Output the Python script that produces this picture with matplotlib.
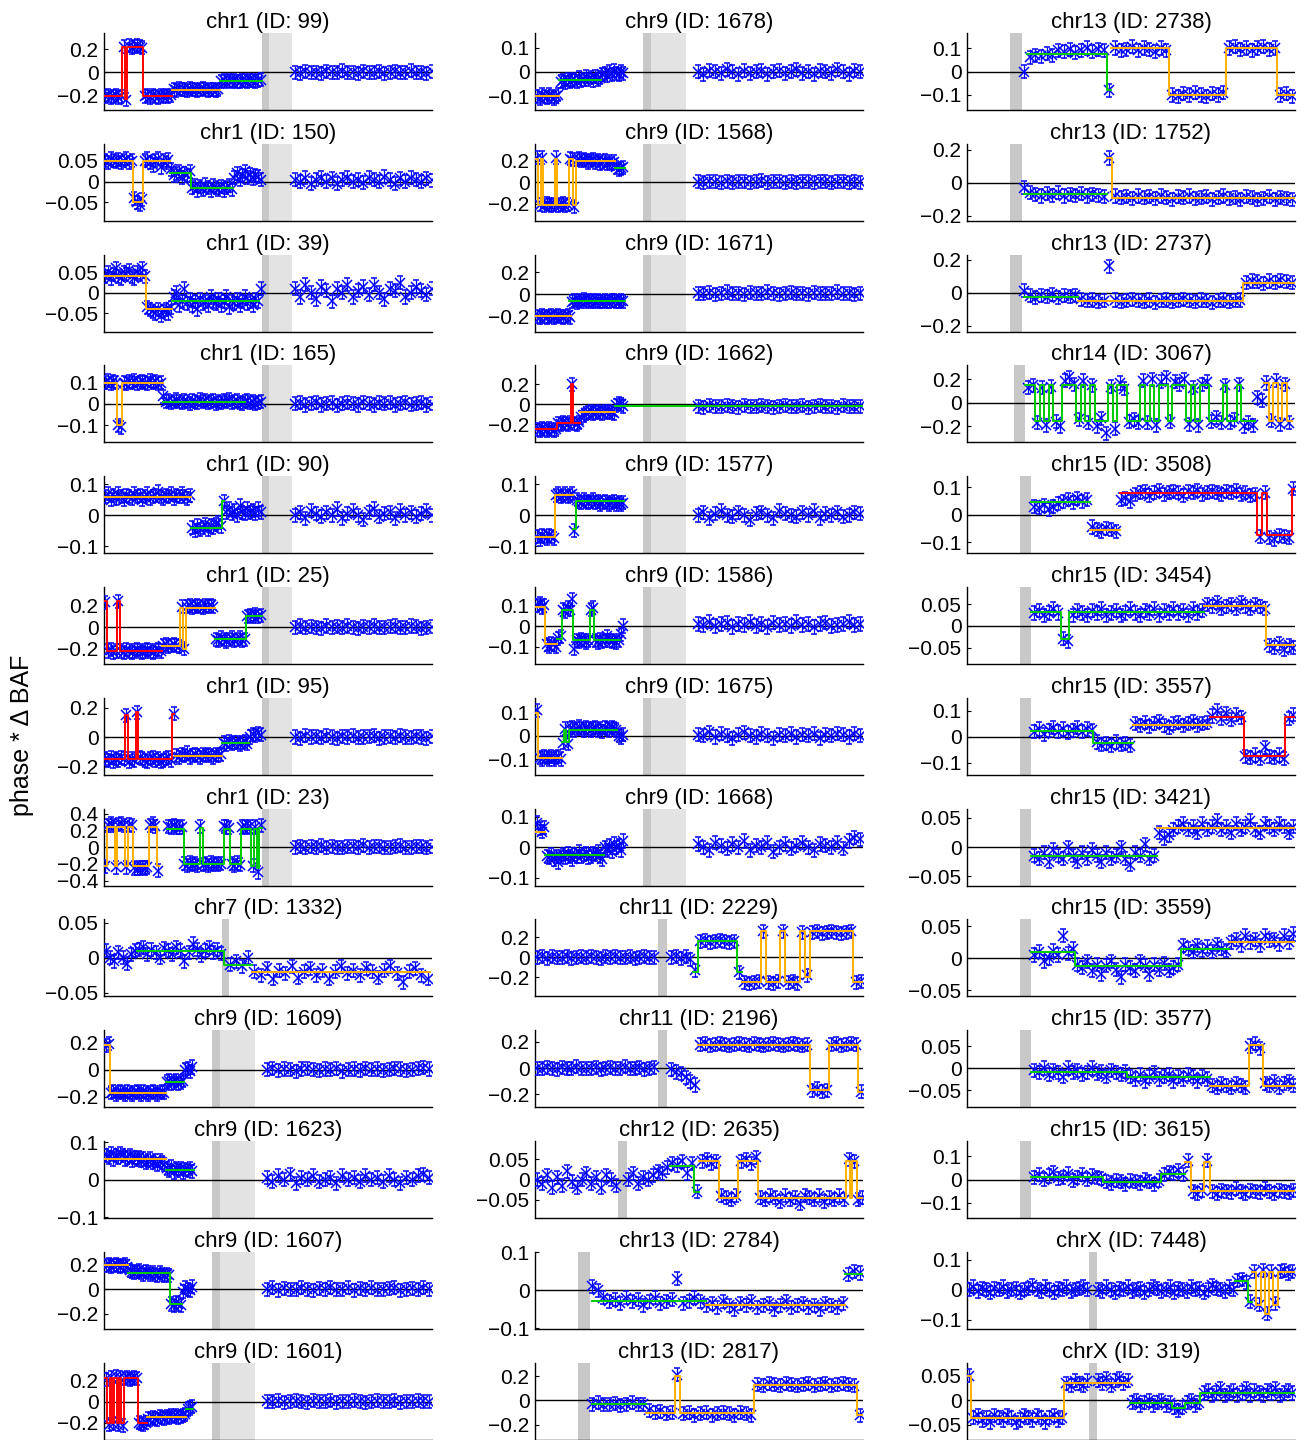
import numpy as np
import matplotlib
matplotlib.use("Agg")
import matplotlib.pyplot as plt
from matplotlib.ticker import FuncFormatter

plt.rcParams["font.family"] = ["Liberation Sans", "DejaVu Sans"]

# chromosome lengths in Mb
chrom_len = {"chr1": 249.25, "chr7": 159.14, "chr9": 141.21, "chr11": 135.01,
             "chr12": 133.85, "chr13": 115.17, "chr14": 107.35, "chr15": 102.53,
             "chrX": 155.27}

# centromere (start, end) and end of the heterochromatin block, in Mb
centro = {"chr1": (120.0, 125.5, 143.0), "chr7": (57.2, 60.6, None),
          "chr9": (46.5, 50.0, 65.0), "chr11": (50.6, 54.3, None),
          "chr12": (33.9, 37.5, None), "chr13": (15.0, 19.3, None),
          "chr14": (15.4, 19.0, None), "chr15": (16.6, 20.0, None),
          "chrX": (57.8, 61.6, None)}

# probe positions (Mb)
chr1_pos = [1, 3, 5, 7, 9, 11, 13, 15, 17, 19,
            21, 23, 25, 27, 29, 31, 33, 35, 37, 39,
            41, 43, 45, 47, 49, 51, 53, 55, 57, 59,
            61, 63, 65, 67, 69, 71, 73, 75, 77, 79,
            81, 83, 85, 87, 89, 91, 93, 95, 97, 99,
            101, 103, 105, 107, 109, 111, 113, 115, 117, 119,
            145, 149, 153, 157, 161, 165, 169, 173, 177, 181,
            185, 189, 193, 197, 201, 205, 209, 213, 217, 221,
            225, 229, 233, 237, 241, 245, 249]
chr7_pos = [1, 3, 5, 7, 9, 11, 13, 15, 17, 19,
            21, 23, 25, 27, 29, 31, 33, 35, 37, 39,
            41, 43, 45, 47, 49, 51, 53, 55, 57,
            61, 64, 67, 70, 73, 76, 79, 82, 85, 88,
            91, 94, 97, 100, 103, 106, 109, 112, 115, 118,
            121, 124, 127, 130, 133, 136, 139, 142, 145, 148,
            151, 154, 157]
chr9_pos = [1, 2, 3, 4, 5, 6, 7, 8, 9, 10,
            11, 12, 13, 14, 15, 16, 17, 18, 19, 20,
            21, 22, 23, 24, 25, 26, 27, 28, 29, 30,
            31, 32, 33, 34, 35, 36, 37, 38,
            70, 72.5, 75, 77.5, 80, 82.5, 85, 87.5, 90, 92.5,
            95, 97.5, 100, 102.5, 105, 107.5, 110, 112.5, 115, 117.5,
            120, 122.5, 125, 127.5, 130, 132.5, 135, 137.5, 140]
chr11_pos = [1, 3, 5, 7, 9, 11, 13, 15, 17, 19,
             21, 23, 25, 27, 29, 31, 33, 35, 37, 39,
             41, 43, 45, 47, 49,
             56, 58, 60, 62, 64, 66, 68, 70, 72, 74,
             76, 78, 80, 82, 84, 86, 88, 90, 92, 94,
             96, 98, 100, 102, 104, 106, 108, 110, 112, 114,
             116, 118, 120, 122, 124, 126, 128, 130, 132, 134]
chr12_pos = [1, 3, 5, 7, 9, 11, 13, 15, 17, 19,
             21, 23, 25, 27, 29, 31, 33,
             38, 40, 42, 44, 46, 48, 50, 52, 54, 56,
             58, 60, 62, 64, 66, 68, 70, 72, 74, 76,
             78, 80, 82, 84, 86, 88, 90, 92, 94, 96,
             98, 100, 102, 104, 106, 108, 110, 112, 114, 116,
             118, 120, 122, 124, 126, 128, 130, 132, 133.5]
chr13_pos = [20, 22, 24, 26, 28, 30, 32, 34, 36, 38,
             40, 42, 44, 46, 48, 50, 52, 54, 56, 58,
             60, 62, 64, 66, 68, 70, 72, 74, 76, 78,
             80, 82, 84, 86, 88, 90, 92, 94, 96, 98,
             100, 102, 104, 106, 108, 110, 112, 114]
chr14_pos = [20, 21.5, 23, 24.5, 26, 27.5, 29, 30.5, 32, 33.5,
             35, 36.5, 38, 39.5, 41, 42.5, 44, 45.5, 47, 48.5,
             50, 51.5, 53, 54.5, 56, 57.5, 59, 60.5, 62, 63.5,
             65, 66.5, 68, 69.5, 71, 72.5, 74, 75.5, 77, 78.5,
             80, 81.5, 83, 84.5, 86, 87.5, 89, 90.5, 92, 93.5,
             95, 96.5, 98, 99.5, 101, 102.5, 104, 105.5]
chr15_pos = [21, 22.5, 24, 25.5, 27, 28.5, 30, 31.5, 33, 34.5,
             36, 37.5, 39, 40.5, 42, 43.5, 45, 46.5, 48, 49.5,
             51, 52.5, 54, 55.5, 57, 58.5, 60, 61.5, 63, 64.5,
             66, 67.5, 69, 70.5, 72, 73.5, 75, 76.5, 78, 79.5,
             81, 82.5, 84, 85.5, 87, 88.5, 90, 91.5, 93, 94.5,
             96, 97.5, 99, 100.5, 102]
chrX_pos = [1, 3, 5, 7, 9, 11, 13, 15, 17, 19,
            21, 23, 25, 27, 29, 31, 33, 35, 37, 39,
            41, 43, 45, 47, 49, 51, 53, 55, 57,
            62, 64, 66, 68, 70, 72, 74, 76, 78, 80,
            82, 84, 86, 88, 90, 92, 94, 96, 98, 100,
            102, 104, 106, 108, 110, 112, 114, 116, 118, 120,
            122, 124, 126, 128, 130, 132, 134, 136, 138, 140,
            142, 144, 146, 148, 150, 152, 154]

positions = {"chr1": chr1_pos, "chr7": chr7_pos, "chr9": chr9_pos, "chr11": chr11_pos,
             "chr12": chr12_pos, "chr13": chr13_pos, "chr14": chr14_pos,
             "chr15": chr15_pos, "chrX": chrX_pos}

# phase * delta BAF per probe; segments are (start, end, level, call class)
y_chr1_99 = [-0.21, -0.2, -0.22, -0.21, -0.2, -0.22, -0.21, 0.22, -0.24, 0.23,
             0.21, 0.22, 0.23, 0.22, 0.21, -0.21, -0.2, -0.22, -0.2, -0.21,
             -0.22, -0.2, -0.21, -0.2, -0.21, -0.2, -0.15, -0.16, -0.14, -0.155,
             -0.15, -0.16, -0.145, -0.155, -0.15, -0.16, -0.15, -0.145, -0.155, -0.16,
             -0.15, -0.155, -0.16, -0.15, -0.08, -0.07, -0.085, -0.075, -0.08, -0.07,
             -0.08, -0.085, -0.07, -0.075, -0.08, -0.07, -0.075, -0.085, -0.07, -0.065,
             0.0, -0.01, 0.005, -0.005, 0.0, -0.01, 0.005, 0.0, -0.005, 0.01,
             -0.005, 0.0, -0.01, 0.005, 0.0, -0.005, 0.005, -0.01, 0.0, 0.005,
             -0.005, 0.0, 0.01, -0.005, 0.0, -0.01, 0.005]
seg_chr1_99 = [(0, 14, -0.21, 1), (14, 16.2, 0.22, 1), (16.2, 17.8, -0.23, 1), (17.8, 30, 0.22, 1),
               (30, 52, -0.21, 1), (52, 88, -0.155, 2), (88, 120, -0.08, 3)]

y_chr1_150 = [0.05, 0.045, 0.055, 0.05, 0.048, 0.053, 0.045, 0.05, 0.055, 0.047,
              0.05, -0.04, -0.05, -0.055, -0.042, 0.05, 0.055, 0.045, 0.04, 0.05,
              0.055, 0.035, 0.05, 0.045, 0.052, 0.03, 0.015, 0.02, 0.025, 0.01,
              0.02, 0.015, 0.025, -0.015, -0.01, -0.02, -0.012, -0.018, -0.008, -0.015,
              -0.02, -0.01, -0.015, -0.018, -0.012, -0.02, -0.015, -0.01, -0.018, 0.01,
              0.02, 0.005, 0.015, 0.025, 0.01, 0.018, 0.008, 0.015, 0.012, 0.005,
              0.005, 0.0, 0.01, -0.005, 0.005, 0.01, 0.0, 0.008, -0.005, 0.005,
              0.01, 0.0, 0.005, -0.003, 0.01, 0.005, 0.0, 0.012, 0.005, -0.005,
              0.008, 0.0, 0.01, 0.005, 0.0, 0.008, 0.003]
seg_chr1_150 = [(0, 22, 0.05, 2), (22, 30, -0.048, 2), (30, 50, 0.05, 2),
                (50, 66, 0.02, 3), (66, 98, -0.015, 3)]

y_chr1_39 = [0.04, 0.05, 0.035, 0.045, 0.06, 0.04, 0.035, 0.05, 0.045, 0.055,
             0.04, 0.035, 0.05, 0.045, 0.06, 0.04, -0.035, -0.04, -0.045, -0.05,
             -0.04, -0.055, -0.045, -0.04, -0.05, -0.035, -0.01, 0.0, -0.03, -0.02,
             0.01, -0.025, -0.015, -0.03, -0.02, -0.04, -0.015, -0.025, -0.02, -0.03,
             -0.01, -0.02, -0.025, -0.015, -0.03, -0.02, -0.01, -0.035, -0.02, -0.025,
             -0.015, -0.03, -0.02, -0.01, -0.025, -0.02, -0.03, -0.015, -0.02, 0.01,
             0.01, -0.01, 0.02, 0.0, -0.015, 0.015, 0.005, -0.02, 0.01, 0.0,
             0.02, -0.01, 0.005, 0.015, -0.005, 0.02, 0.0, -0.015, 0.01, 0.005,
             0.025, -0.01, 0.0, 0.015, 0.005, -0.005, 0.01]
seg_chr1_39 = [(0, 32, 0.04, 2), (32, 52, -0.04, 2), (52, 118, -0.02, 3)]

y_chr1_165 = [0.1, 0.11, 0.095, 0.105, 0.1, -0.1, -0.11, 0.1, 0.095, 0.105,
              0.1, 0.11, 0.095, 0.1, 0.105, 0.1, 0.095, 0.11, 0.1, 0.105,
              0.095, 0.1, 0.035, 0.01, 0.015, 0.005, 0.01, 0.02, 0.01, 0.005,
              0.015, 0.01, 0.0, 0.015, 0.01, 0.005, 0.02, 0.01, 0.015, 0.005,
              0.01, 0.015, 0.0, 0.01, 0.005, 0.015, 0.01, 0.02, 0.005, 0.01,
              0.015, 0.005, 0.0, 0.01, 0.015, 0.005, 0.01, 0.0, 0.005, 0.01,
              0.0, 0.005, -0.005, 0.0, 0.008, -0.005, 0.0, 0.005, -0.008, 0.0,
              0.005, 0.0, -0.005, 0.008, 0.0, -0.005, 0.005, 0.0, 0.005, -0.005,
              0.0, 0.008, -0.003, 0.0, 0.005, -0.005, 0.0]
seg_chr1_165 = [(0, 10, 0.1, 2), (10, 14, -0.1, 2), (14, 44.6, 0.1, 2), (44.6, 107, 0.01, 3)]

y_chr1_90 = [0.06, 0.07, 0.05, 0.065, 0.055, 0.07, 0.06, 0.05, 0.065, 0.06,
             0.055, 0.07, 0.06, 0.065, 0.05, 0.06, 0.07, 0.055, 0.06, 0.065,
             0.075, 0.06, 0.055, 0.065, 0.06, 0.07, 0.055, 0.065, 0.06, 0.07,
             0.06, 0.055, 0.065, -0.04, -0.05, -0.035, -0.045, -0.04, -0.03, -0.045,
             -0.035, -0.04, -0.03, -0.025, -0.035, 0.045, 0.01, 0.02, 0.005, 0.015,
             0.0, 0.03, 0.01, 0.005, 0.02, 0.01, 0.015, 0.005, 0.02, 0.01,
             0.0, 0.01, -0.01, 0.015, 0.005, -0.005, 0.01, 0.0, 0.02, -0.01,
             0.005, 0.015, 0.0, -0.015, 0.01, 0.02, -0.005, 0.005, 0.01, -0.01,
             0.015, 0.0, 0.01, -0.005, 0.005, 0.015, 0.0]
seg_chr1_90 = [(0, 66, 0.06, 2), (66, 90, -0.04, 3), (90, 91.5, 0.045, 3)]

y_chr1_25 = [0.23, -0.22, -0.21, -0.23, -0.22, 0.24, -0.22, -0.23, -0.21, -0.22,
             -0.23, -0.22, -0.21, -0.22, -0.23, -0.22, -0.21, -0.22, -0.23, -0.22,
             -0.21, -0.22, -0.17, -0.16, -0.18, -0.17, -0.16, -0.17, -0.18, 0.19,
             -0.2, 0.19, 0.2, 0.18, 0.19, 0.2, 0.19, 0.18, 0.2, 0.19,
             0.2, 0.19, -0.11, -0.12, -0.1, -0.11, -0.13, -0.11, -0.1, -0.12,
             -0.11, -0.1, -0.12, -0.11, 0.1, 0.11, 0.1, 0.12, 0.1, 0.11,
             0.0, 0.01, -0.005, 0.005, 0.0, -0.01, 0.01, 0.0, 0.005, -0.005,
             0.01, 0.0, -0.01, 0.005, 0.0, 0.01, -0.005, 0.0, 0.005, 0.01,
             -0.005, 0.0, 0.01, 0.005, -0.01, 0.0, 0.005]
seg_chr1_25 = [(0, 2, 0.24, 1), (2, 10, -0.22, 1), (10, 12, 0.24, 1), (12, 44, -0.22, 1),
               (44, 58, -0.17, 2), (58, 60, 0.18, 2), (60, 62, -0.2, 2), (62, 84, 0.18, 2),
               (84, 108, -0.11, 3), (108, 120, 0.1, 3)]

y_chr1_95 = [-0.15, -0.16, -0.14, -0.17, -0.15, -0.16, -0.14, -0.15, 0.15, -0.17,
             -0.15, -0.16, 0.17, -0.14, -0.15, -0.16, -0.17, -0.15, -0.14, -0.16,
             -0.15, -0.17, -0.16, -0.15, -0.14, -0.16, 0.16, -0.13, -0.14, -0.12,
             -0.13, -0.11, -0.14, -0.13, -0.12, -0.13, -0.14, -0.12, -0.13, -0.12,
             -0.13, -0.14, -0.12, -0.13, -0.12, -0.04, -0.05, -0.03, -0.045, -0.04,
             -0.035, -0.05, -0.04, -0.03, -0.045, 0.0, 0.02, 0.01, 0.025, 0.015,
             0.0, -0.01, 0.01, 0.0, 0.005, -0.005, 0.01, 0.0, -0.01, 0.005,
             0.0, 0.01, -0.005, 0.0, 0.005, 0.01, -0.01, 0.0, 0.005, -0.005,
             0.01, 0.0, -0.005, 0.005, 0.0, -0.01, 0.005]
seg_chr1_95 = [(0, 16, -0.15, 1), (16, 18, 0.15, 1), (18, 24, -0.15, 1), (24, 26, 0.17, 1),
               (26, 52, -0.15, 1), (52, 53, 0.16, 1), (54, 90, -0.13, 2), (90, 110, -0.04, 3)]

y_chr1_23 = [-0.23, 0.26, 0.28, 0.26, -0.24, 0.27, 0.28, 0.26, -0.24, 0.27,
             0.26, -0.25, -0.26, -0.25, -0.24, -0.25, -0.24, 0.26, 0.28, 0.25,
             -0.28, None, None, None, 0.25, 0.24, 0.26, 0.24, 0.23, 0.24,
             -0.2, -0.22, -0.19, -0.21, -0.2, -0.22, 0.25, -0.21, -0.2, -0.22,
             -0.19, -0.21, -0.2, -0.21, -0.2, 0.25, 0.24, 0.23, -0.2, -0.22,
             -0.19, -0.21, 0.24, 0.25, 0.23, 0.25, -0.22, 0.24, -0.3, 0.26,
             0.0, 0.01, -0.01, 0.005, 0.0, 0.015, -0.005, 0.01, 0.0, -0.01,
             0.005, 0.01, 0.0, 0.02, -0.005, 0.005, 0.01, -0.01, 0.0, 0.005,
             0.015, -0.005, 0.0, 0.01, 0.005, -0.01, 0.005]
seg_chr1_23 = [(0, 2, -0.23, 2), (2, 8, 0.24, 2), (8, 10, -0.23, 2), (10, 16, 0.24, 2),
               (16, 18, -0.23, 2), (18, 22, 0.24, 2), (22, 34, -0.23, 2), (34, 40, 0.24, 2),
               (40, 42, -0.23, 2),
               (48, 61, 0.22, 3), (61, 73, -0.2, 3), (73, 75, 0.23, 3), (75, 91, -0.2, 3),
               (91, 96, 0.22, 3), (96, 104, -0.2, 3), (104, 112, 0.22, 3), (112, 114, -0.22, 3),
               (114, 116, 0.22, 3), (116, 118, -0.25, 3), (118, 120, 0.23, 3)]

y_chr7_1332 = [0.01, 0.0, -0.005, 0.008, 0.0, -0.008, 0.005, 0.01, 0.012, 0.015,
               0.005, 0.012, 0.008, 0.0, 0.014, 0.01, 0.005, 0.015, 0.01, -0.005,
               0.008, 0.02, 0.012, 0.004, 0.01, 0.015, 0.008, 0.012, 0.006,
               -0.01, -0.005, -0.012, 0.0,
               -0.02, -0.025, -0.015, -0.03, -0.018, -0.022, -0.012, -0.028, -0.02, -0.015,
               -0.025, -0.018, -0.03, -0.02, -0.012, -0.022, -0.018, -0.025, -0.015, -0.02,
               -0.028, -0.018, -0.012, -0.022, -0.035, -0.02, -0.015, -0.025, -0.03]
seg_chr7_1332 = [(16, 58, 0.01, 3), (58, 72, -0.01, 3), (72, 158, -0.02, 2)]

y_chr9_1609 = [0.18, 0.19, -0.17, -0.16, -0.18, -0.17, -0.16, -0.17, -0.18, -0.16,
               -0.17, -0.18, -0.17, -0.16, -0.17, -0.18, -0.16, -0.17, -0.18, -0.17,
               -0.16, -0.17, -0.18, -0.17, -0.16, -0.17, -0.09, -0.08, -0.1, -0.09,
               -0.08, -0.1, -0.09, -0.08, 0.0, 0.01, -0.01, 0.02,
               0.0, 0.01, -0.005, 0.005, 0.0, -0.01, 0.005, 0.01, 0.0, -0.005,
               0.005, 0.0, 0.01, -0.01, 0.0, 0.005, -0.005, 0.01, 0.0, 0.005,
               -0.005, 0.0, 0.01, 0.005, -0.005, 0.0, 0.01, 0.015, 0.005]
seg_chr9_1609 = [(0, 2.5, 0.18, 2), (2.5, 26.5, -0.17, 2), (26.5, 34.5, -0.09, 3)]

y_chr9_1623 = [0.065, 0.06, 0.07, 0.055, 0.065, 0.06, 0.07, 0.065, 0.055, 0.06,
               0.065, 0.05, 0.06, 0.055, 0.06, 0.05, 0.055, 0.045, 0.05, 0.055,
               0.045, 0.05, 0.04, 0.05, 0.045, 0.04, 0.03, 0.025, 0.035, 0.02,
               0.03, 0.025, 0.03, 0.02, 0.028, 0.025, 0.03, 0.022,
               0.005, -0.005, 0.01, 0.0, 0.015, -0.01, 0.005, 0.0, 0.01, -0.005,
               0.0, 0.005, -0.01, 0.01, 0.0, 0.005, -0.005, 0.01, 0.0, 0.005,
               -0.005, 0.01, 0.0, -0.01, 0.005, 0.0, 0.01, 0.015, 0.005]
seg_chr9_1623 = [(0, 26.5, 0.055, 2), (26.5, 38.7, 0.025, 3)]

y_chr9_1607 = [0.19, 0.2, 0.18, 0.19, 0.2, 0.19, 0.18, 0.19, 0.2, 0.18,
               0.15, 0.14, 0.13, 0.14, 0.15, 0.13, 0.12, 0.14, 0.13, 0.12,
               0.13, 0.12, 0.11, 0.13, 0.12, 0.11, 0.12, 0.11, -0.12, -0.13,
               -0.11, -0.12, -0.13, -0.02, 0.01, 0.0, -0.01, 0.02,
               0.0, 0.01, -0.01, 0.005, 0.0, -0.005, 0.01, 0.0, -0.01, 0.005,
               0.0, 0.015, -0.005, 0.0, 0.01, -0.01, 0.005, 0.0, 0.01, -0.005,
               0.0, 0.005, 0.01, -0.01, 0.0, 0.005, -0.005, 0.01, 0.0]
seg_chr9_1607 = [(0, 10.5, 0.19, 2), (10.5, 28.5, 0.13, 3), (28.5, 33.5, -0.12, 3)]

y_chr9_1601 = [0.21, -0.22, 0.23, -0.21, 0.24, -0.22, 0.23, -0.23, 0.22, 0.23,
               0.21, 0.22, 0.23, 0.22, -0.2, -0.21, -0.22, -0.2, -0.16, -0.17,
               -0.15, -0.16, -0.17, -0.14, -0.15, -0.16, -0.14, -0.15, -0.13, -0.14,
               -0.13, -0.15, -0.14, -0.13, -0.12, -0.07, -0.06, -0.05,
               0.005, 0.0, 0.01, -0.005, 0.005, 0.01, 0.0, -0.005, 0.01, 0.005,
               0.0, 0.01, -0.005, 0.005, 0.0, 0.01, 0.005, -0.005, 0.0, 0.01,
               0.005, 0.0, 0.01, -0.005, 0.005, 0.0, 0.01, 0.005, 0.0]
seg_chr9_1601 = [(0, 1.5, 0.22, 1), (1.5, 2.5, -0.2, 1), (2.5, 3.5, 0.22, 1), (3.5, 4.5, -0.2, 1),
                 (4.5, 5.5, 0.22, 1), (5.5, 6.5, -0.2, 1), (6.5, 7.5, 0.22, 1), (7.5, 8.5, -0.2, 1),
                 (8.5, 14.5, 0.22, 1), (14.5, 18.5, -0.2, 1), (18.5, 35.5, -0.15, 2),
                 (35.5, 38.5, -0.07, 3)]

y_chr9_1678 = [-0.1, -0.11, -0.095, -0.1, -0.105, -0.095, -0.1, -0.11, -0.1, -0.095,
               -0.04, -0.035, -0.045, -0.03, -0.04, -0.035, -0.03, -0.04, -0.025, -0.035,
               -0.03, -0.02, -0.03, -0.025, -0.035, -0.02, -0.03, -0.025, -0.01, -0.005,
               -0.015, 0.0, -0.01, 0.005, -0.005, -0.01, 0.0, -0.005,
               0.0, -0.01, 0.005, 0.0, -0.005, 0.01, 0.0, -0.01, 0.005, -0.005,
               0.0, 0.005, -0.01, 0.0, 0.005, -0.005, 0.0, 0.01, -0.005, 0.0,
               -0.01, 0.005, 0.0, -0.005, 0.01, 0.0, -0.01, 0.005, 0.0]
seg_chr9_1678 = [(0, 10.5, -0.1, 2), (10.5, 28.5, -0.035, 3)]

y_chr9_1568 = [0.23, -0.21, 0.23, -0.22, -0.2, -0.21, -0.22, -0.21, 0.23, -0.22,
               -0.21, -0.2, -0.22, -0.21, 0.22, 0.21, -0.23, 0.21, 0.22, 0.2,
               0.21, 0.2, 0.19, 0.2, 0.21, 0.19, 0.2, 0.18, 0.19, 0.2,
               0.18, 0.19, 0.18, 0.19, 0.14, 0.12, 0.13, 0.14,
               0.005, 0.0, 0.01, 0.005, -0.005, 0.01, 0.0, 0.005, 0.01, 0.0,
               0.005, 0.015, 0.0, 0.005, 0.01, -0.005, 0.005, 0.0, 0.01, 0.005,
               0.0, 0.01, 0.005, -0.005, 0.005, 0.01, 0.0, 0.005, 0.0]
seg_chr9_1568 = [(0, 1.5, 0.22, 2), (1.5, 2.5, -0.21, 2), (2.5, 3.5, 0.22, 2), (3.5, 8.5, -0.21, 2),
                 (8.5, 9.5, 0.22, 2), (9.5, 14.5, -0.21, 2), (14.5, 16.5, 0.22, 2),
                 (16.5, 17.5, -0.21, 2), (17.5, 34.5, 0.2, 2), (34.5, 38.7, 0.13, 3)]

y_chr9_1671 = [-0.2, -0.21, -0.19, -0.2, -0.21, -0.2, -0.19, -0.21, -0.2, -0.19,
               -0.2, -0.21, -0.2, -0.19, -0.21, -0.07, -0.06, -0.075, -0.06, -0.065,
               -0.05, -0.07, -0.06, -0.065, -0.055, -0.07, -0.06, -0.065, -0.07, -0.06,
               -0.065, -0.07, -0.06, -0.055, -0.065, -0.07, -0.06, -0.065,
               0.01, 0.005, 0.015, 0.0, 0.01, 0.02, 0.005, 0.01, 0.0, 0.015,
               0.01, 0.005, 0.02, 0.01, 0.0, 0.01, 0.015, 0.005, 0.01, 0.0,
               0.015, 0.01, 0.005, 0.01, 0.02, 0.005, 0.01, 0.0, 0.01]
seg_chr9_1671 = [(0, 15.5, -0.2, 2), (14.5, 38.7, -0.065, 3)]

y_chr9_1662 = [-0.25, -0.26, -0.24, -0.25, -0.26, -0.24, -0.25, -0.26, -0.25, -0.19,
               -0.2, -0.18, -0.19, -0.2, -0.18, 0.2, -0.19, -0.2, -0.18, -0.13,
               -0.11, -0.09, -0.08, -0.07, -0.09, -0.08, -0.07, -0.08, -0.09, -0.07,
               -0.08, -0.07, -0.08, -0.09, -0.01, 0.01, 0.0, -0.02,
               -0.02, -0.03, -0.01, -0.02, -0.025, -0.015, -0.02, -0.03, -0.01, -0.02,
               -0.025, -0.015, -0.02, -0.03, -0.02, -0.01, -0.025, -0.02, -0.015, -0.03,
               -0.02, -0.01, -0.025, -0.02, -0.03, -0.015, -0.02, -0.025, -0.02]
seg_chr9_1662 = [(0, 9.5, -0.25, 1), (9.5, 15.5, -0.19, 1), (15.5, 16.5, 0.2, 1), (16.5, 19.5, -0.19, 1),
                 (19.5, 34.5, -0.08, 2), (34.5, 141, -0.02, 3)]

y_chr9_1577 = [-0.07, -0.08, -0.065, -0.07, -0.075, -0.065, -0.07, -0.075, 0.065, 0.07,
               0.06, 0.065, 0.07, 0.06, 0.065, 0.07, -0.05, 0.05, 0.045, 0.04,
               0.05, 0.045, 0.04, 0.045, 0.05, 0.04, 0.045, 0.035, 0.04, 0.045,
               0.04, 0.035, 0.04, 0.045, 0.035, 0.04, 0.035, 0.04,
               0.0, 0.01, -0.01, 0.005, 0.015, 0.0, -0.005, 0.01, 0.0, -0.015,
               0.005, 0.01, 0.0, -0.01, 0.015, 0.005, 0.0, -0.005, 0.01, 0.0,
               0.015, -0.01, 0.005, 0.0, 0.01, -0.005, 0.0, 0.01, 0.005]
seg_chr9_1577 = [(0, 8.5, -0.07, 2), (8.5, 16.5, 0.065, 2), (16.5, 17.5, -0.045, 3),
                 (17.5, 38.3, 0.045, 3)]

y_chr9_1586 = [0.1, 0.11, 0.09, 0.1, -0.09, -0.1, -0.085, -0.09, -0.1, -0.06,
               -0.05, 0.08, 0.07, 0.09, 0.08, 0.13, -0.11, -0.07, -0.075, -0.065,
               -0.07, -0.08, -0.07, 0.08, 0.09, -0.07, -0.08, -0.065, -0.075, -0.07,
               -0.05, -0.07, -0.075, -0.07, -0.08, -0.07, -0.04, 0.0,
               0.01, 0.005, 0.02, 0.0, 0.01, 0.015, -0.005, 0.01, 0.005, 0.02,
               0.0, 0.01, -0.005, 0.015, 0.005, 0.01, 0.0, 0.02, 0.005, 0.01,
               -0.005, 0.01, 0.015, 0.0, 0.005, 0.01, 0.02, 0.005, 0.01]
seg_chr9_1586 = [(0, 4.5, 0.095, 2), (4.5, 9.5, -0.09, 2), (9.5, 11.5, -0.065, 3),
                 (11.5, 16.5, 0.08, 3), (16.5, 23.5, -0.07, 3), (23.5, 25.5, 0.08, 3),
                 (25.5, 36.5, -0.07, 3)]

y_chr9_1675 = [0.11, -0.095, -0.1, -0.09, -0.095, -0.1, -0.09, -0.1, -0.095, -0.09,
               -0.1, -0.03, 0.03, -0.035, 0.03, 0.035, 0.025, 0.03, 0.04, 0.03,
               0.025, 0.035, 0.03, 0.025, 0.03, 0.035, 0.025, 0.03, 0.02, 0.035,
               0.03, 0.025, 0.035, 0.03, 0.025, 0.0, -0.005, 0.005,
               0.005, 0.0, 0.015, -0.005, 0.01, 0.0, -0.01, 0.005, 0.015, 0.0,
               -0.005, 0.01, 0.0, -0.01, 0.005, 0.0, 0.01, -0.005, 0.005, 0.0,
               0.01, -0.01, 0.005, 0.0, 0.01, 0.005, -0.005, 0.01, 0.0]
seg_chr9_1675 = [(0, 1.5, 0.1, 2), (1.5, 11.5, -0.095, 2), (11.5, 12.5, -0.025, 3),
                 (12.5, 13.5, 0.025, 3), (13.5, 14.5, -0.025, 3), (14.5, 35.5, 0.025, 3)]

y_chr9_1668 = [0.08, 0.06, 0.05, 0.065, -0.03, -0.035, -0.025, -0.04, -0.03, -0.05,
               -0.03, -0.025, -0.035, -0.02, -0.03, -0.04, -0.025, -0.03, -0.015, -0.03,
               -0.025, -0.02, -0.035, -0.03, -0.02, -0.025, -0.015, -0.03, -0.04, 0.0,
               -0.01, 0.005, -0.015, 0.01, 0.0, 0.005, -0.01, 0.02,
               0.01, 0.0, -0.01, 0.015, 0.005, -0.005, 0.01, 0.0, 0.02, -0.01,
               0.005, 0.0, 0.015, -0.015, 0.0, 0.01, -0.005, 0.005, 0.015, 0.0,
               -0.01, 0.01, 0.005, 0.0, 0.015, -0.005, 0.02, 0.03, 0.025]
seg_chr9_1668 = [(0, 4.5, 0.05, 2), (4.5, 29.5, -0.025, 3)]

y_chr11_2229 = [0.0, 0.01, -0.01, 0.005, 0.0, -0.005, 0.01, -0.01, 0.0, 0.005,
                -0.005, 0.01, 0.0, -0.01, 0.005, 0.0, 0.01, -0.005, 0.0, 0.005,
                -0.01, 0.0, 0.01, -0.005, 0.0,
                0.0, 0.01, -0.01, 0.005, -0.02, -0.13, 0.16, 0.17, 0.15, 0.16,
                0.17, 0.16, 0.15, 0.16, -0.15, -0.25, -0.26, -0.25, -0.24, 0.26,
                -0.25, -0.26, -0.24, 0.26, -0.25, -0.24, -0.26, 0.25, -0.18, 0.25,
                0.26, 0.24, 0.25, 0.26, 0.25, 0.24, 0.25, 0.26, -0.25, -0.24]
seg_chr11_2229 = [(65, 67, -0.15, 3), (67, 83, 0.16, 3), (83, 85, -0.15, 3),
                  (85, 93, -0.25, 2), (93, 95, 0.26, 2), (95, 101, -0.25, 2), (101, 103, 0.26, 2),
                  (103, 109, -0.25, 2), (109, 111, 0.26, 2), (111, 113, -0.2, 2),
                  (113, 131, 0.26, 2), (131, 135, -0.25, 2)]

y_chr11_2196 = [0.0, -0.005, 0.005, 0.0, -0.01, 0.005, 0.0, -0.005, 0.01, 0.0,
                -0.005, 0.0, 0.005, -0.01, 0.0, 0.005, -0.005, 0.0, 0.01, -0.005,
                0.0, 0.005, -0.01, 0.0, 0.005,
                -0.01, -0.03, -0.04, -0.07, -0.1, -0.13, 0.18, 0.19, 0.17, 0.18,
                0.19, 0.18, 0.17, 0.18, 0.19, 0.18, 0.17, 0.19, 0.18, 0.17,
                0.18, 0.19, 0.18, 0.17, 0.18, 0.19, 0.18, 0.17, 0.18, -0.17,
                -0.16, -0.18, -0.17, 0.18, 0.19, 0.17, 0.18, 0.19, 0.18, -0.18]
seg_chr11_2196 = [(67, 113, 0.18, 2), (113, 121, -0.17, 2), (121, 133, 0.18, 2), (133, 135, -0.18, 2)]

y_chr12_2635 = [0.0, -0.01, 0.01, -0.02, 0.005, -0.015, 0.02, -0.005, -0.02, 0.0,
                0.015, -0.01, 0.005, -0.02, 0.01, 0.0, -0.015,
                0.0, 0.015, -0.01, 0.005, 0.0, 0.01, 0.02, 0.015, 0.03, 0.04,
                0.035, 0.045, 0.015, 0.04, -0.03, 0.045, 0.05, 0.04, 0.045, -0.04,
                -0.045, -0.05, -0.04, 0.045, 0.05, 0.04, 0.055, -0.045, -0.05, -0.04,
                -0.045, -0.055, -0.04, -0.05, -0.045, -0.06, -0.04, -0.045, -0.05, -0.04,
                -0.055, -0.045, -0.05, -0.04, -0.05, 0.05, 0.045, -0.05, -0.045]
seg_chr12_2635 = [(55, 65, 0.033, 3), (65, 67, -0.03, 3), (67, 75, 0.045, 2), (75, 83, -0.045, 2),
                  (83, 91, 0.045, 2), (91, 127, -0.045, 2), (127, 128.5, 0.045, 2),
                  (128.5, 129.5, -0.045, 2), (129.5, 131.5, 0.045, 2), (131.5, 133.85, -0.045, 2)]

y_chr13_2784 = [0.01, 0.0, -0.02, -0.03, -0.025, -0.035, -0.02, -0.03, -0.025, -0.04,
                -0.03, -0.02, -0.035, -0.03, -0.025, 0.03, -0.035, -0.03, -0.02, -0.03,
                -0.04, -0.035, -0.045, -0.03, -0.04, -0.05, -0.035, -0.04, -0.03, -0.045,
                -0.04, -0.035, -0.05, -0.04, -0.03, -0.045, -0.04, -0.035, -0.045, -0.04,
                -0.05, -0.035, -0.04, -0.045, -0.035, 0.04, 0.05, 0.045]
seg_chr13_2784 = [(20, 60, -0.028, 3), (60, 109, -0.038, 2), (109, 115, 0.042, 3)]

y_chr13_2817 = [-0.03, -0.02, -0.035, -0.03, -0.025, -0.04, -0.03, -0.02, -0.035, -0.03,
                -0.08, -0.1, -0.09, -0.11, -0.1, 0.21, -0.11, -0.1, -0.12, -0.11,
                -0.1, -0.12, -0.11, -0.1, -0.11, -0.12, -0.1, -0.11, -0.12, 0.13,
                0.12, 0.14, 0.13, 0.12, 0.14, 0.13, 0.12, 0.13, 0.14, 0.12,
                0.13, 0.14, 0.12, 0.13, 0.14, 0.13, 0.12, -0.12]
seg_chr13_2817 = [(20, 39, -0.03, 3), (39, 49, -0.1, 2), (49, 51, 0.2, 2), (51, 77, -0.1, 2),
                  (77, 113, 0.13, 2), (113, 115, -0.12, 2)]

y_chr13_2738 = [0.0, 0.06, 0.07, 0.065, 0.075, 0.07, 0.09, 0.085, 0.095, 0.08,
                0.09, 0.1, 0.085, 0.095, 0.09, -0.08, 0.1, 0.09, 0.095, 0.105,
                0.09, 0.1, 0.095, 0.085, 0.1, 0.09, -0.1, -0.105, -0.095, -0.1,
                -0.09, -0.1, -0.105, -0.095, -0.1, -0.09, 0.1, 0.105, 0.095, 0.1,
                0.09, 0.1, 0.105, 0.095, 0.1, -0.1, -0.095, -0.105]
seg_chr13_2738 = [(21, 49, 0.075, 3), (49, 50.5, -0.08, 3), (50.5, 71, 0.1, 2), (71, 91, -0.1, 2),
                  (91, 109, 0.1, 2), (109, 115, -0.1, 2)]

y_chr13_1752 = [-0.03, -0.06, -0.07, -0.08, -0.065, -0.075, -0.06, -0.08, -0.07, -0.075,
                -0.065, -0.08, -0.07, -0.075, -0.085, 0.15, -0.08, -0.09, -0.085, -0.095,
                -0.08, -0.09, -0.085, -0.095, -0.08, -0.09, -0.1, -0.085, -0.09, -0.08,
                -0.095, -0.09, -0.085, -0.1, -0.09, -0.08, -0.095, -0.09, -0.1, -0.085,
                -0.09, -0.1, -0.095, -0.085, -0.1, -0.09, -0.095, -0.1]
seg_chr13_1752 = [(20, 49, -0.07, 3), (49, 51, 0.15, 2), (51, 115, -0.09, 2)]

y_chr13_2737 = [0.01, -0.02, -0.03, -0.015, -0.025, -0.01, -0.03, -0.02, -0.025, -0.015,
                -0.04, -0.05, -0.045, -0.055, -0.05, 0.16, -0.045, -0.055, -0.05, -0.04,
                -0.05, -0.055, -0.045, -0.06, -0.05, -0.045, -0.055, -0.05, -0.04, -0.05,
                -0.055, -0.045, -0.05, -0.06, -0.05, -0.045, -0.055, -0.05, -0.045, 0.06,
                0.07, 0.065, 0.055, 0.07, 0.06, 0.075, 0.065, 0.06]
seg_chr13_2737 = [(20, 39, -0.025, 3), (39, 97, -0.05, 2), (97, 115, 0.06, 2)]

y_chr14_3067 = [0.13, 0.15, -0.17, 0.13, -0.19, 0.14, -0.16, -0.2, 0.19, 0.22,
                0.16, -0.14, 0.19, -0.17, 0.15, -0.2, -0.13, -0.26, 0.14, -0.22,
                0.17, 0.12, -0.16, -0.14, -0.17, 0.19, -0.17, 0.2, -0.19, 0.18,
                0.22, -0.16, 0.18, 0.16, 0.2, -0.18, 0.13, -0.19, 0.16, 0.18,
                -0.16, -0.12, -0.17, 0.15, -0.17, -0.14, 0.16, -0.2, -0.17, -0.19,
                0.05, 0.02, 0.17, -0.15, 0.19, -0.18, 0.16, -0.17]
seg_chr14_3067 = [(19.0, 22.25, 0.15, 3), (22.25, 23.75, -0.15, 3), (23.75, 25.25, 0.15, 3),
                  (25.25, 26.75, -0.15, 3), (26.75, 28.25, 0.15, 3), (28.25, 31.25, -0.15, 3),
                  (31.25, 35.75, 0.15, 3), (35.75, 37.25, -0.15, 3), (37.25, 38.75, 0.15, 3),
                  (38.75, 40.25, -0.15, 3), (40.25, 41.75, 0.15, 3), (41.75, 46.25, -0.15, 3),
                  (46.25, 47.75, 0.15, 3), (47.75, 49.25, -0.15, 3), (49.25, 52.25, 0.15, 3),
                  (52.25, 56.75, -0.15, 3), (56.75, 58.25, 0.15, 3), (58.25, 59.75, -0.15, 3),
                  (59.75, 61.25, 0.15, 3), (61.25, 62.75, -0.15, 3), (62.75, 65.75, 0.15, 3),
                  (65.75, 67.25, -0.15, 3), (67.25, 71.75, 0.15, 3), (71.75, 73.25, -0.15, 3),
                  (73.25, 74.75, 0.15, 3), (74.75, 76.25, -0.15, 3), (76.25, 79.25, 0.15, 3),
                  (79.25, 83.75, -0.15, 3), (83.75, 85.25, 0.15, 3), (85.25, 88.25, -0.15, 3),
                  (88.25, 89.75, 0.15, 3), (89.75, 94.25, -0.15, 3),
                  (97.25, 98.75, 0.17, 2), (98.75, 100.25, -0.15, 2), (100.25, 101.75, 0.17, 2),
                  (101.75, 103.25, -0.15, 2), (103.25, 104.75, 0.17, 2), (104.75, 106.5, -0.15, 2)]

y_chr15_3508 = [0.03, 0.025, 0.035, 0.02, 0.03, 0.04, 0.05, 0.055, 0.045, 0.06,
                0.05, 0.055, -0.045, -0.055, -0.06, -0.05, -0.055, -0.06, 0.055, 0.06,
                0.05, 0.075, 0.08, 0.085, 0.07, 0.08, 0.09, 0.075, 0.08, 0.085,
                0.08, 0.07, 0.085, 0.08, 0.09, 0.075, 0.08, 0.085, 0.08, 0.075,
                0.085, 0.08, 0.09, 0.075, 0.08, 0.07, 0.075, -0.08, 0.08, -0.085,
                -0.09, -0.075, -0.08, -0.085, 0.095]
seg_chr15_3508 = [(20, 38.5, 0.045, 3), (38.5, 47.8, -0.055, 2), (47.8, 90.5, 0.08, 1),
                  (90.5, 92.2, -0.075, 1), (92.2, 93.8, 0.08, 1), (93.8, 101.5, -0.075, 1),
                  (101.5, 102.5, 0.095, 1)]

y_chr15_3454 = [0.03, 0.035, 0.025, 0.03, 0.04, 0.03, -0.03, -0.035, 0.025, 0.035,
                0.03, 0.025, 0.035, 0.03, 0.04, 0.025, 0.03, 0.035, 0.025, 0.03,
                0.04, 0.03, 0.025, 0.035, 0.03, 0.04, 0.025, 0.035, 0.03, 0.04,
                0.03, 0.035, 0.025, 0.04, 0.03, 0.035, 0.05, 0.045, 0.055, 0.04,
                0.045, 0.05, 0.04, 0.055, 0.045, 0.04, 0.05, 0.045, 0.04, -0.045,
                -0.05, -0.04, -0.055, -0.045, -0.05]
seg_chr15_3454 = [(20, 29.5, 0.032, 3), (29.5, 32, -0.03, 3), (32, 74, 0.032, 3),
                  (74, 93.5, 0.045, 2), (93.5, 102.5, -0.045, 2)]

y_chr15_3557 = [0.02, 0.03, 0.01, 0.025, 0.035, 0.02, 0.03, 0.015, 0.025, 0.035,
                0.02, 0.03, 0.025, -0.02, -0.03, -0.025, -0.035, -0.02, -0.03, -0.025,
                -0.035, 0.05, 0.045, 0.055, 0.04, 0.05, 0.06, 0.045, 0.035, 0.05,
                0.055, 0.045, 0.05, 0.06, 0.045, 0.05, 0.055, 0.08, 0.1, 0.07,
                0.09, 0.065, 0.085, 0.075, -0.075, -0.08, -0.07, -0.085, -0.04, -0.075,
                -0.08, -0.07, -0.085, 0.07, 0.085]
seg_chr15_3557 = [(20, 39.3, 0.022, 3), (39.3, 51.8, -0.025, 3), (51.8, 76, 0.045, 2),
                  (76, 86.5, 0.075, 1), (86.5, 99.5, -0.075, 1), (99.5, 102.5, 0.075, 1)]

y_chr15_3421 = [-0.015, -0.02, -0.01, -0.025, -0.005, -0.015, -0.02, 0.0, -0.015, -0.025,
                -0.01, -0.02, -0.005, -0.015, -0.025, -0.01, -0.02, -0.015, 0.0, -0.02,
                -0.03, -0.01, -0.015, 0.005, -0.02, -0.015, 0.025, 0.015, 0.02, 0.03,
                0.035, 0.04, 0.03, 0.035, 0.025, 0.04, 0.03, 0.035, 0.045, 0.03,
                0.035, 0.025, 0.04, 0.03, 0.035, 0.045, 0.03, 0.025, 0.04, 0.035,
                0.03, 0.04, 0.035, 0.025, 0.035]
seg_chr15_3421 = [(20, 59.5, -0.015, 3), (59.5, 102.5, 0.032, 2)]

y_chr15_3559 = [0.005, 0.01, -0.005, 0.0, 0.012, 0.005, 0.035, 0.008, 0.015, -0.01,
                -0.015, -0.005, -0.02, -0.01, -0.025, -0.012, -0.005, -0.018, -0.03, -0.01,
                -0.015, -0.02, -0.005, -0.012, -0.025, -0.01, -0.018, -0.008, -0.02, -0.015,
                -0.01, 0.02, 0.015, 0.01, 0.02, 0.012, 0.018, 0.01, 0.022, 0.015,
                0.012, 0.025, 0.03, 0.02, 0.035, 0.025, 0.03, 0.02, 0.035, 0.028,
                0.03, 0.022, 0.035, 0.025, 0.038]
seg_chr15_3559 = [(20, 33.8, 0.01, 3), (33.8, 67, -0.012, 3), (67, 82, 0.015, 3),
                  (82, 102.5, 0.025, 2)]

y_chr15_3577 = [-0.005, -0.01, 0.0, -0.015, -0.005, -0.01, -0.02, 0.0, -0.01, -0.005,
                -0.015, -0.01, 0.0, -0.012, -0.008, -0.02, -0.005, -0.01, -0.015, -0.008,
                -0.02, -0.025, -0.015, -0.03, -0.02, -0.01, -0.025, -0.02, -0.015, -0.03,
                -0.02, -0.025, -0.015, -0.02, -0.03, -0.02, -0.025, -0.04, -0.045, -0.035,
                -0.04, -0.045, -0.035, -0.04, -0.045, 0.05, 0.055, 0.045, -0.035, -0.04,
                -0.03, -0.045, -0.035, -0.03, -0.04]
seg_chr15_3577 = [(20, 50, -0.01, 3), (50, 76, -0.02, 3), (76, 88, -0.04, 2),
                  (88, 92.5, 0.052, 2), (92.5, 102.5, -0.04, 2)]

y_chr15_3615 = [0.01, 0.02, 0.0, 0.015, 0.03, 0.005, 0.01, 0.025, -0.005, 0.01,
                0.02, 0.0, 0.015, 0.01, 0.005, -0.01, -0.015, -0.005, -0.01, -0.02,
                -0.005, -0.01, -0.015, 0.0, -0.01, -0.02, -0.005, 0.02, 0.03, 0.025,
                0.04, 0.02, 0.08, -0.05, -0.06, -0.045, 0.08, -0.05, -0.06, -0.045,
                -0.05, -0.055, -0.04, -0.05, -0.06, -0.045, -0.05, -0.055, -0.04, -0.05,
                -0.06, -0.045, -0.05, -0.055, -0.045]
seg_chr15_3615 = [(20, 42.5, 0.01, 3), (42.5, 60.5, -0.01, 3), (60.5, 68, 0.025, 3),
                  (68, 70, 0.075, 2), (70, 74, -0.05, 2), (74, 76, 0.075, 2), (76, 102.5, -0.05, 2)]

y_chrX_7448 = [0.0, 0.01, -0.005, 0.005, 0.0, -0.01, 0.005, 0.0, 0.01, -0.005,
               0.0, 0.005, -0.01, 0.0, 0.005, 0.015, 0.0, -0.005, 0.01, 0.0,
               -0.01, 0.005, 0.0, 0.01, -0.005, 0.0, 0.005, 0.01, 0.0,
               0.0, -0.005, 0.01, 0.0, -0.01, 0.005, 0.0, 0.01, -0.005, 0.0,
               0.005, -0.01, 0.0, 0.01, 0.005, -0.005, 0.0, 0.01, -0.01, 0.005,
               0.0, -0.005, 0.01, 0.0, 0.005, -0.01, 0.0, 0.015, 0.005, 0.0,
               -0.005, 0.01, 0.0, 0.03, 0.035, 0.025, -0.04, 0.06, -0.05, 0.065,
               -0.08, 0.06, -0.045, 0.06, 0.065, 0.055, 0.06]
seg_chrX_7448 = [(127, 133, 0.03, 3), (133, 135, -0.04, 3), (135, 137, 0.06, 2), (137, 139, -0.05, 2),
                 (139, 141, 0.06, 2), (141, 143, -0.08, 2), (143, 145, 0.06, 2), (145, 147, -0.05, 2),
                 (147, 155, 0.06, 2)]

y_chrX_319 = [0.05, -0.035, -0.03, -0.04, -0.035, -0.045, -0.03, -0.035, -0.04, -0.03,
              -0.035, -0.045, -0.04, -0.03, -0.035, -0.04, -0.03, -0.035, -0.045, -0.035,
              -0.03, -0.04, -0.035, 0.035, 0.03, 0.04, 0.035, 0.03, 0.04,
              0.04, 0.035, 0.045, 0.03, 0.04, 0.045, 0.035, 0.04, -0.005, 0.0,
              -0.01, -0.005, 0.0, -0.01, -0.005, 0.0, -0.01, -0.005, -0.015, -0.02,
              -0.015, -0.005, 0.0, -0.01, -0.005, 0.015, 0.02, 0.01, 0.015, 0.025,
              0.01, 0.015, 0.02, 0.01, 0.015, 0.025, 0.01, 0.02, 0.015, 0.01,
              0.02, 0.015, 0.025, 0.01, 0.015, 0.02, 0.015]
seg_chrX_319 = [(0, 2, 0.05, 2), (2, 46, -0.035, 2), (46, 77, 0.035, 2), (77, 97, -0.005, 3),
                (97, 103, -0.015, 3), (103, 110.5, -0.005, 3), (110.5, 155, 0.015, 3)]

# (chromosome, sample id, values, segments, y ticks, y limits), one list per column
column1 = [
    ("chr1", 99, y_chr1_99, seg_chr1_99, [-0.2, 0, 0.2], (-0.33, 0.34)),
    ("chr1", 150, y_chr1_150, seg_chr1_150, [-0.05, 0, 0.05], (-0.094, 0.091)),
    ("chr1", 39, y_chr1_39, seg_chr1_39, [-0.05, 0, 0.05], (-0.094, 0.093)),
    ("chr1", 165, y_chr1_165, seg_chr1_165, [-0.1, 0, 0.1], (-0.18, 0.18)),
    ("chr1", 90, y_chr1_90, seg_chr1_90, [-0.1, 0, 0.1], (-0.123, 0.126)),
    ("chr1", 25, y_chr1_25, seg_chr1_25, [-0.2, 0, 0.2], (-0.34, 0.37)),
    ("chr1", 95, y_chr1_95, seg_chr1_95, [-0.2, 0, 0.2], (-0.26, 0.27)),
    ("chr1", 23, y_chr1_23, seg_chr1_23, [-0.4, -0.2, 0, 0.2, 0.4], (-0.46, 0.46)),
    ("chr7", 1332, y_chr7_1332, seg_chr7_1332, [-0.05, 0, 0.05], (-0.055, 0.055)),
    ("chr9", 1609, y_chr9_1609, seg_chr9_1609, [-0.2, 0, 0.2], (-0.275, 0.29)),
    ("chr9", 1623, y_chr9_1623, seg_chr9_1623, [-0.1, 0, 0.1], (-0.102, 0.103)),
    ("chr9", 1607, y_chr9_1607, seg_chr9_1607, [-0.2, 0, 0.2], (-0.32, 0.30)),
    ("chr9", 1601, y_chr9_1601, seg_chr9_1601, [-0.2, 0, 0.2], (-0.36, 0.37)),
]
column2 = [
    ("chr9", 1678, y_chr9_1678, seg_chr9_1678, [-0.1, 0, 0.1], (-0.157, 0.16)),
    ("chr9", 1568, y_chr9_1568, seg_chr9_1568, [-0.2, 0, 0.2], (-0.36, 0.36)),
    ("chr9", 1671, y_chr9_1671, seg_chr9_1671, [-0.2, 0, 0.2], (-0.34, 0.36)),
    ("chr9", 1662, y_chr9_1662, seg_chr9_1662, [-0.2, 0, 0.2], (-0.38, 0.39)),
    ("chr9", 1577, y_chr9_1577, seg_chr9_1577, [-0.1, 0, 0.1], (-0.123, 0.126)),
    ("chr9", 1586, y_chr9_1586, seg_chr9_1586, [-0.1, 0, 0.1], (-0.185, 0.19)),
    ("chr9", 1675, y_chr9_1675, seg_chr9_1675, [-0.1, 0, 0.1], (-0.168, 0.164)),
    ("chr9", 1668, y_chr9_1668, seg_chr9_1668, [-0.1, 0, 0.1], (-0.126, 0.126)),
    ("chr11", 2229, y_chr11_2229, seg_chr11_2229, [-0.2, 0, 0.2], (-0.39, 0.38)),
    ("chr11", 2196, y_chr11_2196, seg_chr11_2196, [-0.2, 0, 0.2], (-0.3, 0.29)),
    ("chr12", 2635, y_chr12_2635, seg_chr12_2635, [-0.05, 0, 0.05], (-0.095, 0.095)),
    ("chr13", 2784, y_chr13_2784, seg_chr13_2784, [-0.1, 0, 0.1], (-0.102, 0.101)),
    ("chr13", 2817, y_chr13_2817, seg_chr13_2817, [-0.2, 0, 0.2], (-0.32, 0.31)),
]
column3 = [
    ("chr13", 2738, y_chr13_2738, seg_chr13_2738, [-0.1, 0, 0.1], (-0.164, 0.164)),
    ("chr13", 1752, y_chr13_1752, seg_chr13_1752, [-0.2, 0, 0.2], (-0.23, 0.236)),
    ("chr13", 2737, y_chr13_2737, seg_chr13_2737, [-0.2, 0, 0.2], (-0.236, 0.23)),
    ("chr14", 3067, y_chr14_3067, seg_chr14_3067, [-0.2, 0, 0.2], (-0.336, 0.32)),
    ("chr15", 3508, y_chr15_3508, seg_chr15_3508, [-0.1, 0, 0.1], (-0.141, 0.141)),
    ("chr15", 3454, y_chr15_3454, seg_chr15_3454, [-0.05, 0, 0.05], (-0.088, 0.09)),
    ("chr15", 3557, y_chr15_3557, seg_chr15_3557, [-0.1, 0, 0.1], (-0.146, 0.15)),
    ("chr15", 3421, y_chr15_3421, seg_chr15_3421, [-0.05, 0, 0.05], (-0.066, 0.066)),
    ("chr15", 3559, y_chr15_3559, seg_chr15_3559, [-0.05, 0, 0.05], (-0.06, 0.061)),
    ("chr15", 3577, y_chr15_3577, seg_chr15_3577, [-0.05, 0, 0.05], (-0.089, 0.086)),
    ("chr15", 3615, y_chr15_3615, seg_chr15_3615, [-0.1, 0, 0.1], (-0.164, 0.164)),
    ("chrX", 7448, y_chrX_7448, seg_chrX_7448, [-0.1, 0, 0.1], (-0.13, 0.127)),
    ("chrX", 319, y_chrX_319, seg_chrX_319, [-0.05, 0, 0.05], (-0.08, 0.077)),
]

# colours for segment call classes
class_color = {1: "#ff0000", 2: "#ffb000", 3: "#00cc00"}


def tick_fmt(v, _):
    return f"{v:g}".replace("-", "\u2212")


def draw_segments(ax, segs):
    # join touching segments of one class into a single step line
    runs = []
    for x0, x1, lvl, cls in segs:
        if runs and runs[-1][0] == cls and abs(runs[-1][1][-1][0] - x0) < 1e-9:
            runs[-1][1].extend([(x0, lvl), (x1, lvl)])
        else:
            runs.append((cls, [(x0, lvl), (x1, lvl)]))
    for cls, pts in runs:
        xs, ys = zip(*pts)
        ax.plot(xs, ys, color=class_color[cls], lw=1.4, zorder=4)


W, H = 1304, 1440
fig = plt.figure(figsize=(W / 100, H / 100), dpi=100)

col_left = [104, 535, 967]
ax_w, ax_h = 328, 77
row_top0, row_step = 33, 110.8

for c, column in enumerate([column1, column2, column3]):
    for r, (chrom, pid, vals, segs, ticks, ylim) in enumerate(column):
        top = row_top0 + r * row_step
        ax = fig.add_axes([col_left[c] / W, 1 - (top + ax_h) / H, ax_w / W, ax_h / H])

        c0, c1, het = centro[chrom]
        ax.axvspan(c0, c1, color="#c8c8c8", lw=0, zorder=0)
        if het is not None:
            ax.axvspan(c1, het, color="#e3e3e3", lw=0, zorder=0)
        ax.axhline(0, color="black", lw=1.0, zorder=2)

        x = np.array(positions[chrom], dtype=float)
        y = np.array(vals, dtype=float)
        err = 0.085 * (ylim[1] - ylim[0])
        ax.errorbar(x, y, yerr=err, fmt="x", color="#0000ff", ms=7, mew=1.1,
                    elinewidth=0.9, capsize=2.5, capthick=0.9, zorder=3)
        draw_segments(ax, segs)

        ax.set_xlim(0, chrom_len[chrom])
        ax.set_ylim(*ylim)
        ax.set_xticks([])
        ax.set_yticks(ticks)
        ax.yaxis.set_major_formatter(FuncFormatter(tick_fmt))
        ax.tick_params(axis="y", direction="in", length=3, width=0.8, labelsize=15, pad=4)
        for side in ("top", "right"):
            ax.spines[side].set_visible(False)
        for side in ("left", "bottom"):
            ax.spines[side].set_linewidth(1.0)
        ax.set_title(f"{chrom} (ID: {pid})", fontsize=16, pad=2)

fig.text(22 / W, 1 - 735 / H, "phase * \u0394 BAF", rotation=90, ha="center", va="center",
         fontsize=18)

fig.savefig("out.png", dpi=100)
